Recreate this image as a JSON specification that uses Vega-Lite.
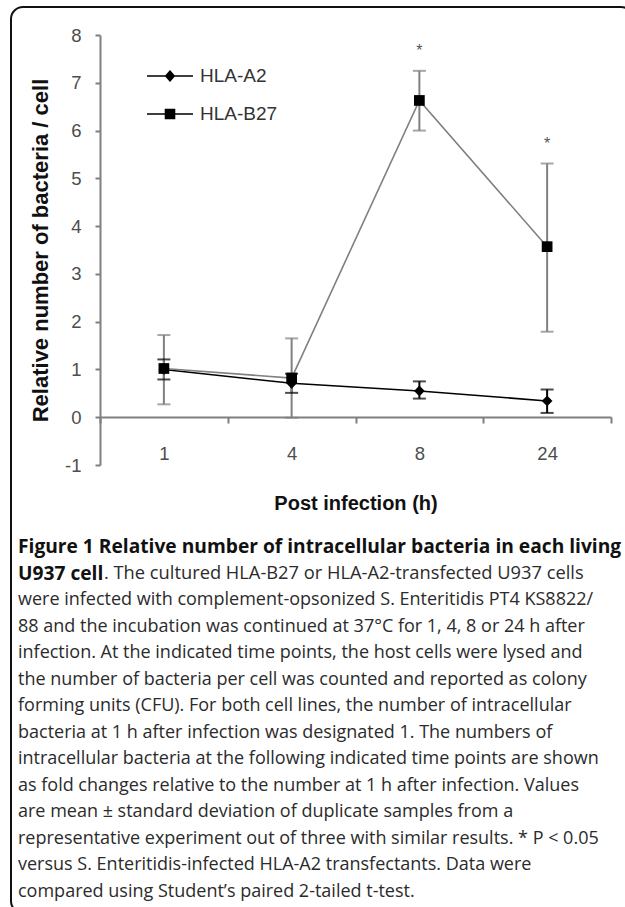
{
  "$schema": "https://vega.github.io/schema/vega-lite/v6.json",
  "width": 622,
  "height": 906,
  "autosize": {"type": "none"},
  "padding": {"left": 11, "top": 7, "right": 0, "bottom": 0},
  "background": "white",
  "config": {
    "view": {"stroke": "#111111", "strokeWidth": 2, "cornerRadius": 12, "fill": "white"},
    "font": "Liberation Sans"
  },
  "datasets": {
    "pts": [
      {"hour": "1", "series": "HLA-A2", "mean": 1.0, "lo": 0.79, "hi": 1.21, "sig": ""},
      {"hour": "4", "series": "HLA-A2", "mean": 0.71, "lo": 0.51, "hi": 0.91, "sig": ""},
      {"hour": "8", "series": "HLA-A2", "mean": 0.55, "lo": 0.39, "hi": 0.75, "sig": ""},
      {"hour": "24", "series": "HLA-A2", "mean": 0.34, "lo": 0.09, "hi": 0.58, "sig": ""},
      {"hour": "1", "series": "HLA-B27", "mean": 1.02, "lo": 0.27, "hi": 1.72, "sig": ""},
      {"hour": "4", "series": "HLA-B27", "mean": 0.82, "lo": -0.01, "hi": 1.65, "sig": ""},
      {"hour": "8", "series": "HLA-B27", "mean": 6.63, "lo": 6.0, "hi": 7.25, "sig": "*"},
      {"hour": "24", "series": "HLA-B27", "mean": 3.57, "lo": 1.79, "hi": 5.31, "sig": "*"}
    ],
    "caption": [
      {"line": 1, "kind": "bold", "text": "Figure 1 Relative number of intracellular bacteria in each living"},
      {"line": 2, "kind": "bold", "text": "U937 cell"},
      {"line": 2, "kind": "rest", "text": ". The cultured HLA-B27 or HLA-A2-transfected U937 cells"},
      {"line": 3, "kind": "normal", "text": "were infected with complement-opsonized S. Enteritidis PT4 KS8822/"},
      {"line": 4, "kind": "normal", "text": "88 and the incubation was continued at 37°C for 1, 4, 8 or 24 h after"},
      {"line": 5, "kind": "normal", "text": "infection. At the indicated time points, the host cells were lysed and"},
      {"line": 6, "kind": "normal", "text": "the number of bacteria per cell was counted and reported as colony"},
      {"line": 7, "kind": "normal", "text": "forming units (CFU). For both cell lines, the number of intracellular"},
      {"line": 8, "kind": "normal", "text": "bacteria at 1 h after infection was designated 1. The numbers of"},
      {"line": 9, "kind": "normal", "text": "intracellular bacteria at the following indicated time points are shown"},
      {"line": 10, "kind": "normal", "text": "as fold changes relative to the number at 1 h after infection. Values"},
      {"line": 11, "kind": "normal", "text": "are mean ± standard deviation of duplicate samples from a"},
      {"line": 12, "kind": "normal", "text": "representative experiment out of three with similar results. * P < 0.05"},
      {"line": 13, "kind": "normal", "text": "versus S. Enteritidis-infected HLA-A2 transfectants. Data were"},
      {"line": 14, "kind": "normal", "text": "compared using Student’s paired 2-tailed t-test."}
    ]
  },
  "resolve": {"scale": {"x": "independent", "y": "independent"}},
  "layer": [
    {
      "data": {"name": "pts"},
      "encoding": {
        "x": {
          "field": "hour",
          "type": "ordinal",
          "sort": ["1", "4", "8", "24"],
          "scale": {"type": "band", "range": [89, 600], "paddingInner": 0, "paddingOuter": 0},
          "axis": {
            "offset": -496,
            "tickBand": "extent",
            "tickSize": 6,
            "tickColor": "#7f7f7f",
            "tickWidth": 2,
            "domainColor": "#7f7f7f",
            "domainWidth": 2,
            "labelAngle": 0,
            "labelFont": "Liberation Sans",
            "labelFontSize": 18.5,
            "labelColor": "#4d4d4d",
            "labelPadding": 21,
            "title": "Post infection (h)",
            "titleFont": "Liberation Sans",
            "titleFontSize": 20,
            "titleFontWeight": "bold",
            "titleColor": "#111111",
            "titlePadding": 31
          }
        }
      },
      "layer": [
        {
          "mark": {"type": "rule", "strokeWidth": 2},
          "encoding": {
            "y": {"field": "lo", "type": "quantitative", "scale": {"domain": [-1, 8], "range": [458, 28], "nice": false, "zero": false}},
            "y2": {"field": "hi"},
            "color": {"condition": {"test": "datum.series === 'HLA-A2'", "value": "#000000"}, "value": "#808080"}
          }
        },
        {
          "mark": {"type": "tick", "orient": "horizontal", "size": 13, "thickness": 2},
          "encoding": {
            "y": {"field": "lo", "type": "quantitative", "scale": {"domain": [-1, 8], "range": [458, 28], "nice": false, "zero": false}},
            "color": {"condition": {"test": "datum.series === 'HLA-A2'", "value": "#000000"}, "value": "#808080"}
          }
        },
        {
          "mark": {"type": "tick", "orient": "horizontal", "size": 13, "thickness": 2},
          "encoding": {
            "y": {"field": "hi", "type": "quantitative", "scale": {"domain": [-1, 8], "range": [458, 28], "nice": false, "zero": false}},
            "color": {"condition": {"test": "datum.series === 'HLA-A2'", "value": "#000000"}, "value": "#808080"}
          }
        },
        {
          "mark": {"type": "line", "strokeWidth": 1.6},
          "encoding": {
            "y": {
              "field": "mean",
              "type": "quantitative",
              "scale": {"domain": [-1, 8], "range": [458, 28], "nice": false, "zero": false},
              "axis": {
                "offset": -89,
                "values": [-1, 0, 1, 2, 3, 4, 5, 6, 7, 8],
                "labelExpr": "'' + datum.value",
                "grid": false,
                "tickSize": 5,
                "tickColor": "#7f7f7f",
                "tickWidth": 2,
                "domainColor": "#7f7f7f",
                "domainWidth": 2,
                "labelFont": "Liberation Sans",
                "labelFontSize": 18.5,
                "labelColor": "#4d4d4d",
                "labelPadding": 14,
                "title": "Relative number of bacteria / cell",
                "titleFont": "Liberation Sans",
                "titleFontSize": 22,
                "titleFontWeight": "bold",
                "titleColor": "#111111",
                "titlePadding": 12
              }
            },
            "detail": {"field": "series", "type": "nominal"},
            "color": {"condition": {"test": "datum.series === 'HLA-A2'", "value": "#000000"}, "value": "#808080"}
          }
        },
        {
          "mark": {"type": "point", "filled": true, "size": 115, "opacity": 1, "color": "#000000"},
          "encoding": {
            "y": {"field": "mean", "type": "quantitative", "scale": {"domain": [-1, 8], "range": [458, 28], "nice": false, "zero": false}},
            "shape": {"condition": {"test": "datum.series === 'HLA-A2'", "value": "diamond"}, "value": "square"}
          }
        },
        {
          "mark": {"type": "point", "filled": true, "fill": "#000000", "stroke": "#111111", "strokeWidth": 1.5, "opacity": 0},
          "encoding": {
            "y": {"field": "mean", "type": "quantitative", "scale": {"domain": [-1, 8], "range": [458, 28], "nice": false, "zero": false}},
            "shape": {
              "field": "series",
              "type": "nominal",
              "scale": {"domain": ["HLA-A2", "HLA-B27"], "range": ["M-1,-0.033H1V0.033H-1ZM0,-0.26L0.23,0L0,0.26L-0.23,0Z", "M-1,-0.033H1V0.033H-1ZM-0.23,-0.23H0.23V0.23H-0.23Z"]},
              "legend": {
                "title": null,
                "orient": "none",
                "legendX": 135,
                "legendY": 45,
                "symbolSize": 2116,
                "symbolOpacity": 1,
                "symbolFillColor": "#000000",
                "symbolStrokeColor": "#111111",
                "symbolStrokeWidth": 1.5,
                "labelFont": "Liberation Sans",
                "labelFontSize": 19,
                "labelColor": "#333333",
                "labelOffset": 6,
                "rowPadding": 4
              }
            }
          }
        },
        {
          "transform": [{"filter": "datum.sig === '*'"}],
          "mark": {"type": "text", "dy": -20, "fontSize": 16, "color": "#555555", "font": "Liberation Sans"},
          "encoding": {
            "y": {"field": "hi", "type": "quantitative", "scale": {"domain": [-1, 8], "range": [458, 28], "nice": false, "zero": false}},
            "text": {"field": "sig"}
          }
        }
      ]
    },
    {
      "data": {"name": "caption"},
      "encoding": {
        "x": {"datum": 0, "type": "quantitative", "scale": {"domain": [0, 1], "range": [7, 600]}, "axis": null},
        "y": {"field": "line", "type": "ordinal", "scale": {"type": "point", "domain": [1, 2, 3, 4, 5, 6, 7, 8, 9, 10, 11, 12, 13, 14], "range": [540, 885], "padding": 0}, "axis": null}
      },
      "layer": [
        {
          "transform": [{"filter": "datum.kind === 'normal'"}],
          "mark": {"type": "text", "align": "left", "baseline": "middle", "font": "Open Sans", "fontSize": 18, "color": "#2b2b2b"},
          "encoding": {"text": {"field": "text"}}
        },
        {
          "transform": [{"filter": "datum.kind === 'bold'"}],
          "mark": {"type": "text", "align": "left", "baseline": "middle", "font": "Open Sans", "fontSize": 19.2, "fontWeight": "bold", "color": "#111111"},
          "encoding": {"text": {"field": "text"}}
        },
        {
          "transform": [{"filter": "datum.kind === 'rest'"}],
          "mark": {"type": "text", "align": "left", "baseline": "middle", "font": "Open Sans", "fontSize": 18.3, "dx": 86, "color": "#2b2b2b"},
          "encoding": {"text": {"field": "text"}}
        }
      ]
    }
  ]
}
